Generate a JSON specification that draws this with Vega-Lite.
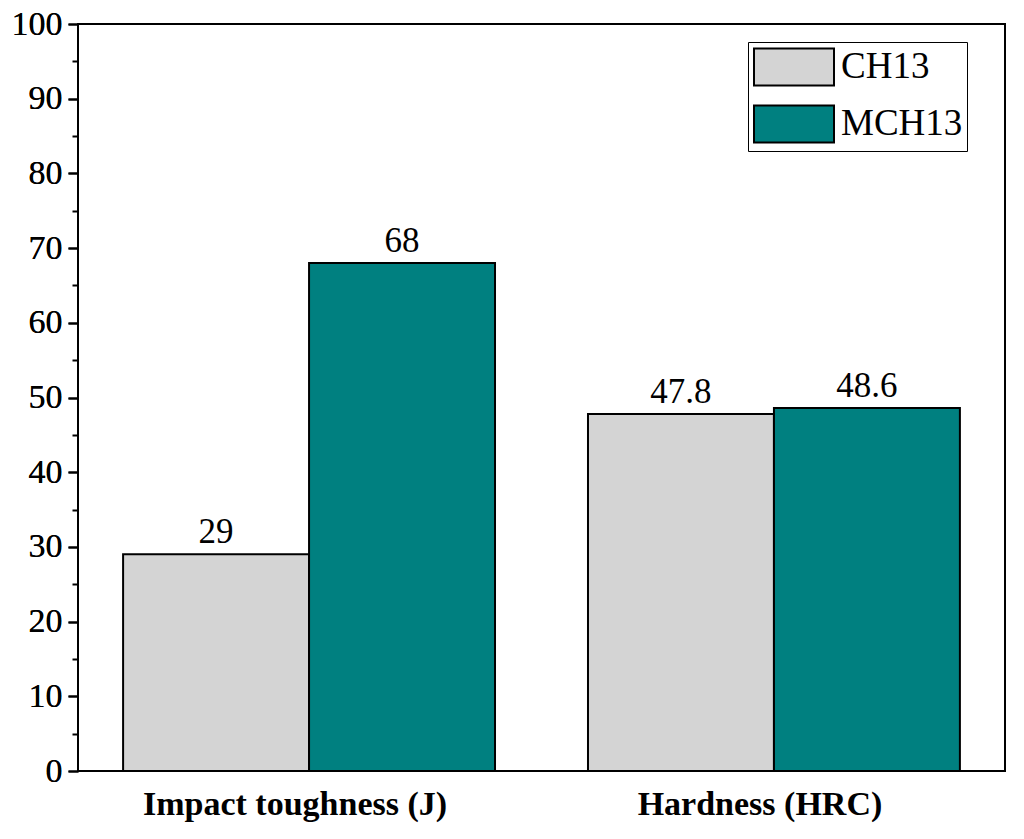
{
  "$schema": "https://vega.github.io/schema/vega-lite/v6.json",
  "width": 927,
  "height": 747,
  "autosize": "none",
  "padding": {"left": 78, "top": 24, "right": 19, "bottom": 68},
  "background": "white",
  "config": {
    "font": "Liberation Serif",
    "view": {"stroke": "black", "strokeWidth": 2}
  },
  "data": {
    "values": [
      {"property": "Impact toughness (J)", "steel": "CH13", "value": 29, "label": "29"},
      {"property": "Impact toughness (J)", "steel": "MCH13", "value": 68, "label": "68"},
      {"property": "Hardness (HRC)", "steel": "CH13", "value": 47.8, "label": "47.8"},
      {"property": "Hardness (HRC)", "steel": "MCH13", "value": 48.6, "label": "48.6"}
    ]
  },
  "encoding": {
    "x": {
      "field": "property",
      "type": "nominal",
      "sort": ["Impact toughness (J)", "Hardness (HRC)"],
      "scale": {"paddingInner": 0.2, "paddingOuter": 0.097},
      "axis": {
        "title": null,
        "labelAngle": 0,
        "ticks": false,
        "domain": false,
        "labelFont": "Liberation Serif",
        "labelFontSize": 34,
        "labelFontWeight": "bold",
        "labelColor": "black",
        "labelPadding": 16,
        "labelOffset": -14,
        "labelLimit": 0
      }
    },
    "xOffset": {
      "field": "steel",
      "type": "nominal",
      "scale": {"paddingInner": 0, "paddingOuter": 0}
    },
    "y": {
      "field": "value",
      "type": "quantitative",
      "scale": {"domain": [0, 100], "nice": false},
      "axis": {
        "title": null,
        "orient": "left",
        "values": [0, 10, 20, 30, 40, 50, 60, 70, 80, 90, 100],
        "grid": false,
        "domain": false,
        "tickColor": "black",
        "tickWidth": 2,
        "tickSize": 10,
        "labelFont": "Liberation Serif",
        "labelFontSize": 34,
        "labelColor": "black",
        "labelPadding": 6
      }
    }
  },
  "layer": [
    {
      "mark": {"type": "bar", "stroke": "black", "strokeWidth": 2},
      "encoding": {
        "fill": {
          "field": "steel",
          "type": "nominal",
          "scale": {"domain": ["CH13", "MCH13"], "range": ["#d4d4d4", "#008080"]},
          "legend": {
            "title": null,
            "orient": "none",
            "legendX": 670,
            "legendY": 18,
            "strokeColor": "black",
            "fillColor": "white",
            "padding": 4,
            "rowPadding": 11,
            "symbolType": "M-2,-0.93H2V0.93H-2Z",
            "symbolSize": 1600,
            "symbolOffset": 21,
            "symbolStrokeColor": "black",
            "symbolStrokeWidth": 2,
            "symbolOpacity": 1,
            "labelFont": "Liberation Serif",
            "labelFontSize": 37,
            "labelColor": "black",
            "labelOffset": 26,
            "labelLimit": 300
          }
        }
      }
    },
    {
      "mark": {"type": "text", "baseline": "bottom", "dy": -4, "fontSize": 35, "font": "Liberation Serif", "color": "black"},
      "encoding": {"text": {"field": "label"}}
    },
    {
      "data": {"values": [{"v": 5}]},
      "mark": {"type": "rule", "opacity": 0},
      "encoding": {
        "x": {"value": 0},
        "xOffset": null,
        "y": {
          "field": "v",
          "type": "quantitative",
          "axis": {
            "title": null,
            "orient": "left",
            "values": [5, 15, 25, 35, 45, 55, 65, 75, 85, 95],
            "labels": false,
            "grid": false,
            "domain": false,
            "tickColor": "black",
            "tickWidth": 2,
            "tickSize": 6
          }
        }
      }
    }
  ],
  "resolve": {"axis": {"y": "independent"}}
}
